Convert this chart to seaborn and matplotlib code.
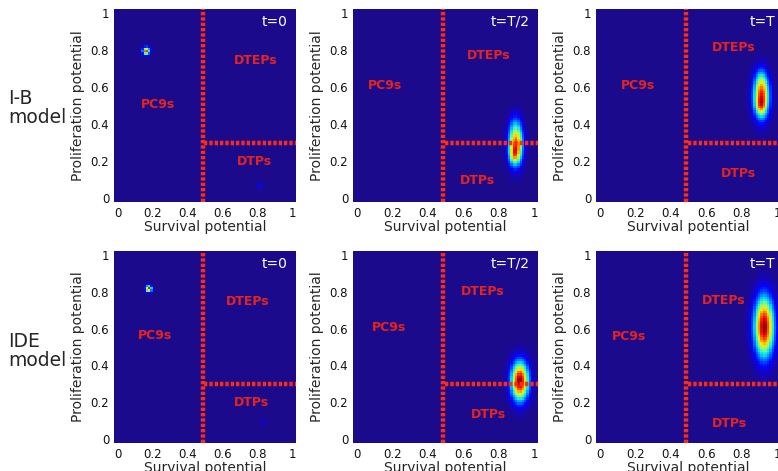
import numpy as np
import pandas as pd
import matplotlib
matplotlib.use("Agg")
import matplotlib.pyplot as plt
from matplotlib.colors import LinearSegmentedColormap
import seaborn as sns

sns.set_style("white")
plt.rcParams['font.family'] = ['DejaVu Sans']

# ---------------- data ----------------
row_labels = ["I-B\nmodel", "IDE\nmodel"]
time_labels = ["t=0", "t=T/2", "t=T"]
tick_values = [0, 0.2, 0.4, 0.6, 0.8, 1]
tick_labels = ["0", "0.2", "0.4", "0.6", "0.8", "1"]
x_label = "Survival potential"
y_label = "Proliferation potential"
region_names = ["PC9s", "DTEPs", "DTPs"]
survival_threshold = 0.487
proliferation_threshold = 0.30

# density blobs per panel (row, col): list of (x centre, y centre, sd x, sd y, amplitude)
blobs = {
    (0, 0): [(0.165, 0.795, 0.014, 0.014, 0.80), (0.158, 0.788, 0.008, 0.008, 0.20),
             (0.814, 0.068, 0.012, 0.012, 0.10)],
    (0, 1): [(0.895, 0.29, 0.027, 0.072, 0.80), (0.885, 0.235, 0.018, 0.035, 0.30),
             (0.89, 0.40, 0.022, 0.045, 0.10)],
    (0, 2): [(0.91, 0.55, 0.030, 0.078, 0.85), (0.905, 0.50, 0.018, 0.030, 0.22),
             (0.905, 0.64, 0.022, 0.045, 0.10)],
    (1, 0): [(0.178, 0.816, 0.012, 0.012, 0.92), (0.833, 0.093, 0.011, 0.011, 0.08)],
    (1, 1): [(0.918, 0.315, 0.033, 0.070, 1.00)],
    (1, 2): [(0.925, 0.61, 0.037, 0.108, 1.00)],
}

# region label positions per panel: (x, y) for PC9s, DTEPs, DTPs
label_pos = {
    (0, 0): [(0.23, 0.505), (0.79, 0.745), (0.78, 0.20)],
    (0, 1): [(0.16, 0.61), (0.74, 0.77), (0.68, 0.095)],
    (0, 2): [(0.215, 0.607), (0.755, 0.815), (0.78, 0.135)],
    (1, 0): [(0.213, 0.56), (0.742, 0.746), (0.765, 0.20)],
    (1, 1): [(0.18, 0.604), (0.71, 0.80), (0.74, 0.137)],
    (1, 2): [(0.163, 0.557), (0.697, 0.75), (0.728, 0.086)],
}

# ---------------- grid ----------------
lo, hi, n = -0.02, 1.02, 80
w = (hi - lo) / n
centres = lo + w * (np.arange(n) + 0.5)
GX, GY = np.meshgrid(centres, centres)


def c(v):
    return (v - lo) / w


cmap = LinearSegmentedColormap.from_list(
    "jetlike",
    [(0.0, "#1c0a8c"), (0.11, "#0a00f5"), (0.14, "#0010ff"), (0.35, "#00d8ff"),
     (0.5, "#80ff7a"), (0.65, "#ffe600"), (0.88, "#ff1000"), (1.0, "#800000")])

fig = plt.figure(figsize=(7.78, 4.71), dpi=100)
W, H = 778, 471
col_px = [(114, 182), (353, 185), (596, 185)]
row_px = [(9, 193), (251, 192)]
tx_right = [0.97, 0.975, 0.985]

for r in range(2):
    top, hgt = row_px[r]
    for k in range(3):
        left, wid = col_px[k]
        ax = fig.add_axes([left / W, (H - top - hgt) / H, wid / W, hgt / H])
        z = np.zeros_like(GX)
        for (bx, by, sx, sy, a) in blobs[(r, k)]:
            z += a * np.exp(-0.5 * (((GX - bx) / sx) ** 2 + ((GY - by) / sy) ** 2))
        df = pd.DataFrame(z)
        sns.heatmap(df, ax=ax, cmap=cmap, vmin=0, vmax=1, cbar=False,
                    xticklabels=False, yticklabels=False)
        ax.invert_yaxis()
        ax.set_xlim(0, n)
        ax.set_ylim(0, n)
        ax.set_xticks([c(t) for t in tick_values])
        ax.set_xticklabels(tick_labels, fontsize=8.5, rotation=0)
        ax.set_yticks([c(t) for t in tick_values])
        ax.set_yticklabels(tick_labels, fontsize=8.5, rotation=0)
        ax.tick_params(length=2, width=0.8, pad=1.5, colors="#111111")
        ax.set_xlabel(x_label, fontsize=10, labelpad=0)
        ax.set_ylabel(y_label, fontsize=10, labelpad=4)
        for s in ax.spines.values():
            s.set_visible(False)
        # thresholds
        ax.plot([c(survival_threshold)] * 2, [0, n], color="#ff2a10", lw=3.2,
                linestyle=(0, (0.75, 0.45)), solid_capstyle="butt")
        ax.plot([c(survival_threshold + 0.01), n], [c(proliferation_threshold)] * 2,
                color="#ff2a10", lw=3.2, linestyle=(0, (0.75, 0.45)))
        for name, (px, py) in zip(region_names, label_pos[(r, k)]):
            ax.text(c(px), c(py), name, color="#e8231c", fontsize=9,
                    fontweight="bold", ha="center", va="center")
        ax.text(c(tx_right[k]), c(0.99), time_labels[k], color="white",
                fontsize=10, ha="right", va="top")

fig.text(8 / W, 1 - 108 / H, row_labels[0], fontsize=13.5, ha="left", va="center",
         linespacing=1.05)
fig.text(8 / W, 1 - 351 / H, row_labels[1], fontsize=13.5, ha="left", va="center",
         linespacing=1.05)

fig.savefig("out.png", dpi=100)
